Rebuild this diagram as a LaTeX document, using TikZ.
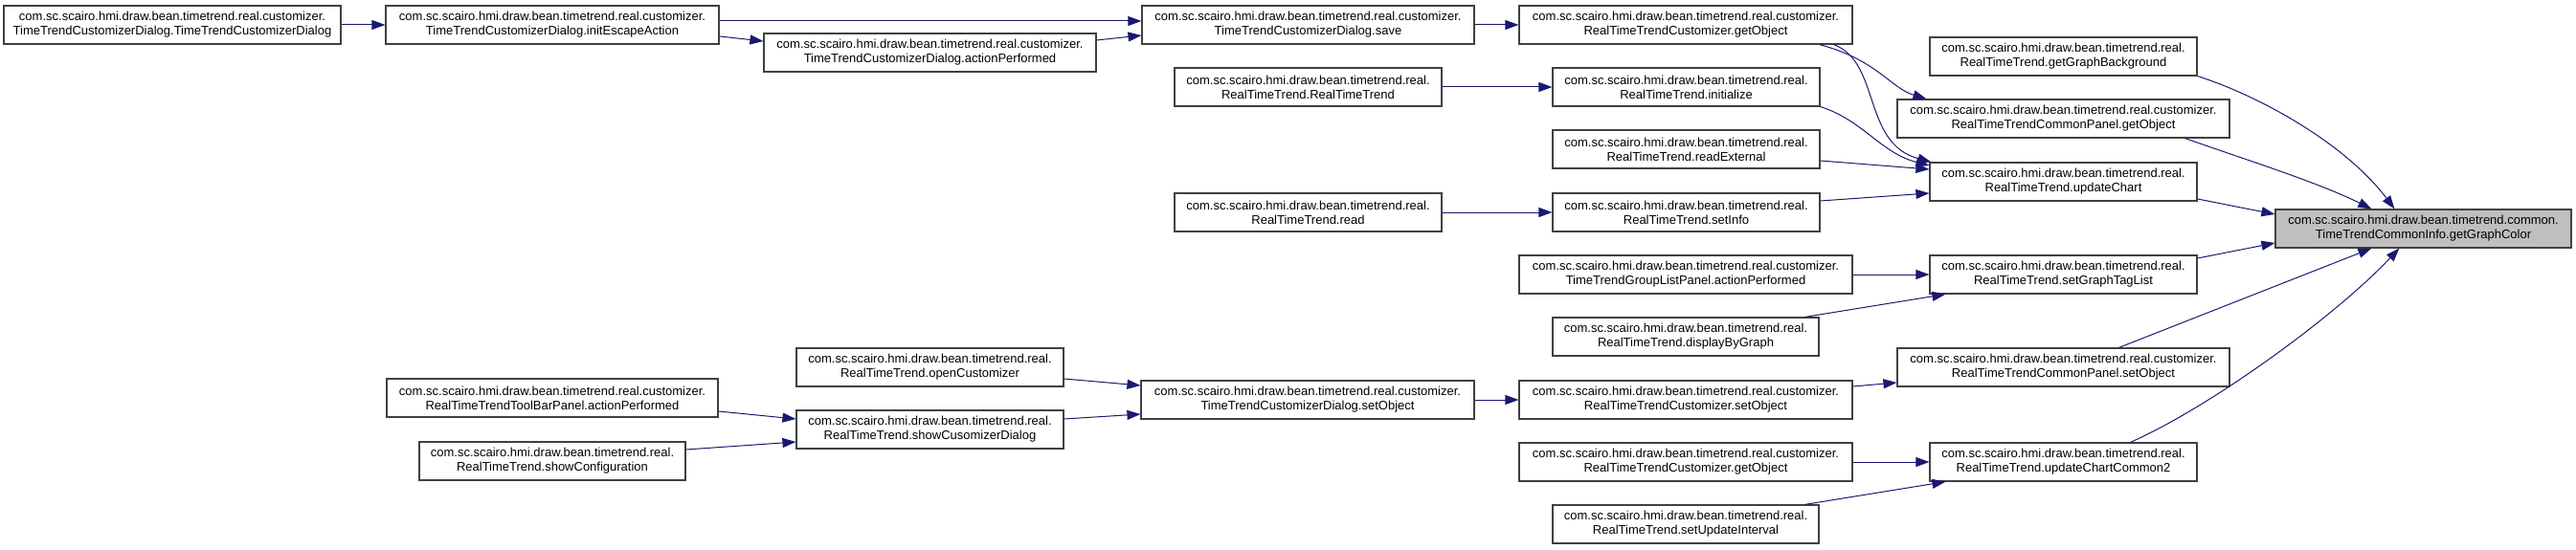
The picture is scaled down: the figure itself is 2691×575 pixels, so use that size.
\documentclass[tikz,border=0pt]{standalone}
\usepackage{fontspec}
\setmainfont{Liberation Sans}
\usepackage{xcolor}
\usetikzlibrary{arrows.meta}

\definecolor{edgeblue}{RGB}{25,25,112}
\definecolor{boxline}{RGB}{64,64,64}
\definecolor{focusgray}{RGB}{191,191,191}

\tikzset{
  fn/.style={draw=boxline, line width=1.2pt, fill=white, minimum height=40, inner sep=0pt,
    align=center, font=\fontsize{13}{15}\selectfont},
  focus/.style={fn, fill=focusgray},
  call/.style={draw=edgeblue, line width=1pt, -{Triangle[length=14pt,width=10pt]}}
}

\begin{document}
\begin{tikzpicture}[x=1pt,y=1pt,yscale=-1,xscale=1]
\useasboundingbox (0,0) rectangle (2691,575);

%Shape: Box [col 1]
\draw (180,26) node [fn, minimum width=352] (dlgCtor) {com.sc.scairo.hmi.draw.bean.timetrend.real.customizer.\\TimeTrendCustomizerDialog.TimeTrendCustomizerDialog};
%Shape: Box [col 2]
\draw (577,26) node [fn, minimum width=348] (initEsc) {com.sc.scairo.hmi.draw.bean.timetrend.real.customizer.\\TimeTrendCustomizerDialog.initEscapeAction};
\draw (577,416) node [fn, minimum width=346] (toolAction) {com.sc.scairo.hmi.draw.bean.timetrend.real.customizer.\\RealTimeTrendToolBarPanel.actionPerformed};
\draw (577,482) node [fn, minimum width=278] (showConfig) {com.sc.scairo.hmi.draw.bean.timetrend.real.\\RealTimeTrend.showConfiguration};
%Shape: Box [col 3]
\draw (971.5,55) node [fn, minimum width=347] (dlgAction) {com.sc.scairo.hmi.draw.bean.timetrend.real.customizer.\\TimeTrendCustomizerDialog.actionPerformed};
\draw (971.5,384) node [fn, minimum width=279] (openCust) {com.sc.scairo.hmi.draw.bean.timetrend.real.\\RealTimeTrend.openCustomizer};
\draw (971.5,449) node [fn, minimum width=279] (showDlg) {com.sc.scairo.hmi.draw.bean.timetrend.real.\\RealTimeTrend.showCusomizerDialog};
%Shape: Box [col 4]
\draw (1366.5,26) node [fn, minimum width=347] (dlgSave) {com.sc.scairo.hmi.draw.bean.timetrend.real.customizer.\\TimeTrendCustomizerDialog.save};
\draw (1366.5,91) node [fn, minimum width=279] (rttCtor) {com.sc.scairo.hmi.draw.bean.timetrend.real.\\RealTimeTrend.RealTimeTrend};
\draw (1366.5,222) node [fn, minimum width=279] (rttRead) {com.sc.scairo.hmi.draw.bean.timetrend.real.\\RealTimeTrend.read};
\draw (1366,418) node [fn, minimum width=348] (dlgSetObj) {com.sc.scairo.hmi.draw.bean.timetrend.real.customizer.\\TimeTrendCustomizerDialog.setObject};
%Shape: Box [col 5]
\draw (1761,26) node [fn, minimum width=348] (custGetTop) {com.sc.scairo.hmi.draw.bean.timetrend.real.customizer.\\RealTimeTrendCustomizer.getObject};
\draw (1761.5,91) node [fn, minimum width=279] (rttInit) {com.sc.scairo.hmi.draw.bean.timetrend.real.\\RealTimeTrend.initialize};
\draw (1761.5,156) node [fn, minimum width=279] (rttReadExt) {com.sc.scairo.hmi.draw.bean.timetrend.real.\\RealTimeTrend.readExternal};
\draw (1761.5,222) node [fn, minimum width=279] (rttSetInfo) {com.sc.scairo.hmi.draw.bean.timetrend.real.\\RealTimeTrend.setInfo};
\draw (1761,287) node [fn, minimum width=348] (groupAction) {com.sc.scairo.hmi.draw.bean.timetrend.real.customizer.\\TimeTrendGroupListPanel.actionPerformed};
\draw (1761,352) node [fn, minimum width=278] (rttDisplay) {com.sc.scairo.hmi.draw.bean.timetrend.real.\\RealTimeTrend.displayByGraph};
\draw (1761,418) node [fn, minimum width=348] (custSetObj) {com.sc.scairo.hmi.draw.bean.timetrend.real.customizer.\\RealTimeTrendCustomizer.setObject};
\draw (1761,483) node [fn, minimum width=348] (custGetBot) {com.sc.scairo.hmi.draw.bean.timetrend.real.customizer.\\RealTimeTrendCustomizer.getObject};
\draw (1761,548) node [fn, minimum width=278] (rttSetUpd) {com.sc.scairo.hmi.draw.bean.timetrend.real.\\RealTimeTrend.setUpdateInterval};
%Shape: Box [col 6]
\draw (2155.5,59) node [fn, minimum width=279] (rttGraphBg) {com.sc.scairo.hmi.draw.bean.timetrend.real.\\RealTimeTrend.getGraphBackground};
\draw (2155.5,124) node [fn, minimum width=347] (panelGetObj) {com.sc.scairo.hmi.draw.bean.timetrend.real.customizer.\\RealTimeTrendCommonPanel.getObject};
\draw (2155.5,190) node [fn, minimum width=279] (rttUpdChart) {com.sc.scairo.hmi.draw.bean.timetrend.real.\\RealTimeTrend.updateChart};
\draw (2155.5,287) node [fn, minimum width=279] (rttTagList) {com.sc.scairo.hmi.draw.bean.timetrend.real.\\RealTimeTrend.setGraphTagList};
\draw (2155.5,384) node [fn, minimum width=347] (panelSetObj) {com.sc.scairo.hmi.draw.bean.timetrend.real.customizer.\\RealTimeTrendCommonPanel.setObject};
\draw (2155.5,483) node [fn, minimum width=279] (rttUpdCC) {com.sc.scairo.hmi.draw.bean.timetrend.real.\\RealTimeTrend.updateChartCommon2};
%Shape: Box [focus]
\draw (2531.5,239) node [focus, minimum width=309] (graphColor) {com.sc.scairo.hmi.draw.bean.timetrend.common.\\TimeTrendCommonInfo.getGraphColor};

%Arrows (yscale=-1 also flips yshift: positive = down)
\draw [call] (dlgCtor.east) -- (initEsc.west);
\draw [call] ([yshift=-4pt]initEsc.east) -- ([yshift=-4pt]dlgSave.west);
\draw [call] ([yshift=12pt]initEsc.east) -- ([yshift=-12pt]dlgAction.west);
\draw [call] ([yshift=-13pt]dlgAction.east) -- ([yshift=11pt]dlgSave.west);
\draw [call] (dlgSave.east) -- (custGetTop.west);
\draw [call] ([xshift=-35pt]custGetTop.south east) .. controls (1960,62) and (1975,92) .. ([xshift=31pt]panelGetObj.north west);
\draw [call] ([xshift=-20pt]custGetTop.south east) .. controls (1965,65) and (1945,150) .. ([xshift=2pt]rttUpdChart.north west);
\draw [call] (rttCtor.east) -- (rttInit.west);
\draw [call] (rttInit.south east) .. controls (1945,125) and (1965,160) .. ([yshift=-17pt]rttUpdChart.west);
\draw [call] ([yshift=12pt]rttReadExt.east) -- ([yshift=-13pt]rttUpdChart.west);
\draw [call] (rttRead.east) -- (rttSetInfo.west);
\draw [call] ([yshift=-12pt]rttSetInfo.east) -- ([yshift=12pt]rttUpdChart.west);
\draw [call] (rttGraphBg.south east) .. controls (2360,100) and (2450,150) .. ([xshift=125pt]graphColor.north west);
\draw [call] ([xshift=-47pt]panelGetObj.south east) .. controls (2340,165) and (2420,190) .. ([xshift=101pt]graphColor.north west);
\draw [call] ([yshift=18pt]rttUpdChart.east) -- ([yshift=-15pt]graphColor.west);
\draw [call] (groupAction.east) -- (rttTagList.west);
\draw [call] ([xshift=-15pt]rttDisplay.north east) -- ([xshift=17pt]rttTagList.south west);
\draw [call] ([yshift=-17pt]rttTagList.east) -- ([yshift=15pt]graphColor.west);
\draw [call] ([xshift=58pt]panelSetObj.north) -- ([xshift=101pt]graphColor.south west);
\draw [call] ([yshift=-14pt]custSetObj.east) -- ([yshift=16pt]panelSetObj.west);
\draw [call] (dlgSetObj.east) -- (custSetObj.west);
\draw [call] ([yshift=12pt]openCust.east) -- ([yshift=-15pt]dlgSetObj.west);
\draw [call] ([yshift=-11pt]showDlg.east) -- ([yshift=15pt]dlgSetObj.west);
\draw [call] ([yshift=14pt]toolAction.east) -- ([yshift=-11pt]showDlg.west);
\draw [call] ([yshift=-12pt]showConfig.east) -- ([yshift=13pt]showDlg.west);
\draw [call] (custGetBot.east) -- (rttUpdCC.west);
\draw [call] ([xshift=-15pt]rttSetUpd.north east) -- ([xshift=17pt]rttUpdCC.south west);
\draw [call] ([xshift=70pt]rttUpdCC.north) .. controls (2310,425) and (2440,330) .. ([xshift=130pt]graphColor.south west);

\end{tikzpicture}
\end{document}
